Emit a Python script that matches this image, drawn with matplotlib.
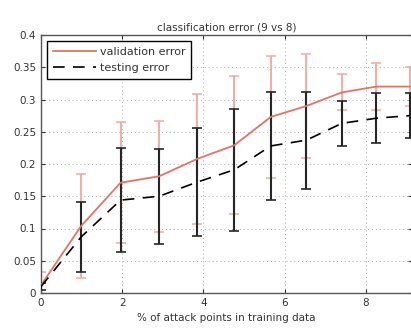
import numpy as np
from matplotlib import pyplot as plt
from matplotlib.ticker import FuncFormatter

plt.rcParams['font.family'] = ['DejaVu Sans']

# % of attack points in training data
x = [0, 0.99, 1.96, 2.91, 3.85, 4.76, 5.66, 6.54, 7.41, 8.26, 9.09]

# validation error (mean and half-width of the bar)
val_mean = [0.012, 0.104, 0.171, 0.181, 0.208, 0.229, 0.273, 0.290, 0.311, 0.320, 0.320]
val_err = [0.020, 0.080, 0.094, 0.086, 0.101, 0.107, 0.094, 0.080, 0.028, 0.037, 0.030]

# testing error
test_mean = [0.010, 0.087, 0.144, 0.150, 0.172, 0.191, 0.228, 0.237, 0.263, 0.271, 0.275]
test_err = [0.005, 0.054, 0.081, 0.074, 0.084, 0.095, 0.084, 0.075, 0.035, 0.039, 0.035]

xticks = [0, 2, 4, 6, 8]
yticks = [0, 0.05, 0.1, 0.15, 0.2, 0.25, 0.3, 0.35, 0.4]

fig = plt.figure(figsize=(4.11, 3.29), dpi=100)
ax = fig.add_axes([41/411, 36/329, 371/411, 258/329])

# error bars first, red under black
ax.errorbar(x, val_mean, yerr=val_err, fmt='none', ecolor='#efb0a8',
            elinewidth=1.5, capsize=3.5, capthick=1.2, zorder=2)
ax.errorbar(x, test_mean, yerr=test_err, fmt='none', ecolor='#262626',
            elinewidth=1.5, capsize=3.5, capthick=1.2, zorder=3)

l1, = ax.plot(x, val_mean, color='#e07466', lw=1.3, zorder=4, label='validation error')
l2, = ax.plot(x, test_mean, color='black', lw=1.2, dashes=(7, 5), zorder=4, label='testing error')

ax.set_xlim(0, 9.14)
ax.set_ylim(0, 0.4)
ax.set_xticks(xticks)
ax.set_yticks(yticks)
ax.yaxis.set_major_formatter(FuncFormatter(lambda v, p: '%g' % v))
ax.tick_params(direction='in', top=True, right=True, length=3, labelsize=7.5,
               colors='#333333')
ax.grid(True, color='#aaaaaa', linestyle=(0, (1, 3)), linewidth=0.7)
for s in ax.spines.values():
    s.set_color('#555555')
    s.set_linewidth(1.0)

ax.set_title('classification error (9 vs 8)', fontsize=7.5, pad=3.5, color='#333333')
ax.set_xlabel('% of attack points in training data', fontsize=7.5, labelpad=4,
              color='#333333')

leg = ax.legend(handles=[l1, l2], loc='upper left', bbox_to_anchor=(0.016, 0.977),
                borderaxespad=0, fontsize=8, handlelength=3.9, handletextpad=0.3,
                fancybox=False, framealpha=1, edgecolor='black', borderpad=0.55,
                labelspacing=0.5)
leg.get_frame().set_linewidth(1.0)
for t in leg.get_texts():
    t.set_color('#333333')

fig.savefig('out.png', dpi=100)
